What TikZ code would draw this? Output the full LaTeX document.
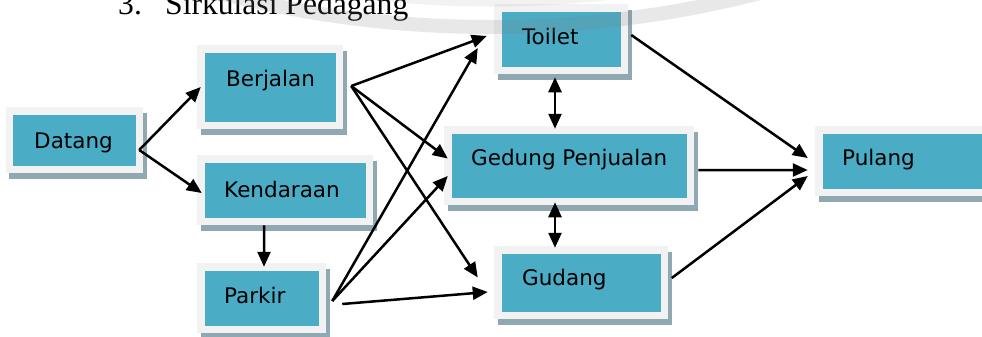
\documentclass[tikz,border=0pt]{standalone}
\usepackage{fontspec}
\setmainfont{Liberation Serif}
\newfontfamily\boxfont{DejaVu Sans}
\usetikzlibrary{arrows.meta}
\definecolor{teal5}{HTML}{4BACC6}
\definecolor{framec}{HTML}{F2F2F2}
\definecolor{shadowc}{HTML}{90A8B2}
\begin{document}
\begin{tikzpicture}[x=1bp,y=-1bp,
  box/.style={rectangle, fill=teal5, draw=framec, line width=7.5bp, outer sep=0pt, inner sep=0pt,
    preaction={fill=shadowc, draw=shadowc, transform canvas={shift={(3.5bp,-6bp)}}}},
  lbl/.style={anchor=base west, inner sep=0pt, font=\boxfont\fontsize{21.5bp}{25bp}\selectfont, text=black},
  arr/.style={line width=2.5bp, -{Triangle[length=15bp,width=13bp]}},
  darr/.style={line width=2.5bp, {Triangle[length=15bp,width=13bp]}-{Triangle[length=15bp,width=13bp]}},
  wmark/.style={draw=gray, opacity=0.18, line width=14bp}]
\useasboundingbox (0,0) rectangle (982,336);
\clip (0,0) rectangle (982,336);
\fill[white] (0,0) rectangle (982,336);

% title (cut by the top edge, as in the reference)
\node[anchor=base west, inner sep=0pt, font=\fontsize{31.6bp}{36bp}\selectfont] (title) at (118,14) {3.\hspace{23.3bp}Sirkulasi Pedagang};

% boxes
\node[box, minimum width=129.5bp, minimum height=58.5bp] (datang) at (74.5,140) {};
\node[box, minimum width=138.5bp, minimum height=76.5bp] (berjalan) at (270,87) {};
\node[box, minimum width=168.5bp, minimum height=62.5bp] (kendaraan) at (285,190) {};
\node[box, minimum width=121.5bp, minimum height=62.5bp] (parkir) at (261.5,298) {};
\node[box, minimum width=126.5bp, minimum height=62.5bp] (toilet) at (561,39) {};
\node[box, minimum width=242.5bp, minimum height=71.5bp] (gedung) at (569,165.5) {};
\node[box, minimum width=166.5bp, minimum height=65.5bp] (gudang) at (581,282.5) {};
\node[box, minimum width=177.5bp, minimum height=62.5bp] (pulang) at (907.5,161) {};

% labels
\node[lbl] (tdatang) at (34,148) {Datang};
\node[lbl] (tberjalan) at (226,86) {Berjalan};
\node[lbl] (tkendaraan) at (224,197) {Kendaraan};
\node[lbl] (tparkir) at (224,303) {Parkir};
\node[lbl] (ttoilet) at (522,44) {Toilet};
\node[lbl] (tgedung) at (471,165) {Gedung Penjualan};
\node[lbl] (tgudang) at (522,285) {Gudang};
\node[lbl] (tpulang) at (842,165) {Pulang};

% watermark arcs
\draw[wmark] (490,-1053) circle[radius=1080];
\draw[draw=gray, opacity=0.1, line width=7bp] (490,-1053) circle[radius=1056];

% connectors
\draw[arr] ([shift={(0,10)}]datang.east) -- (berjalan.west);
\draw[arr] ([shift={(0,10)}]datang.east) -- ([shift={(1,3)}]kendaraan.west);
\draw[arr] ([shift={(-21,4)}]kendaraan.south) -- ([shift={(2.5,0)}]parkir.north);
\draw[arr] ([shift={(12,-1)}]berjalan.east) -- ([shift={(-11,-3)}]toilet.west);
\draw[arr] ([shift={(12,-1)}]berjalan.east) -- ([shift={(0,-7)}]gedung.west);
\draw[arr] ([shift={(12,-1)}]berjalan.east) -- ([shift={(-20,-5)}]gudang.west);
\draw[arr] ([shift={(10,3)}]parkir.east) -- ([shift={(-20,9)}]toilet.west);
\draw[arr] ([shift={(10,3)}]parkir.east) -- ([shift={(0,10.5)}]gedung.west);
\draw[arr] ([shift={(20,6)}]parkir.east) -- ([shift={(-10,9.5)}]gudang.west);
\draw[arr] ([shift={(7,-4)}]toilet.east) -- ([shift={(-11,-3)}]pulang.west);
\draw[arr] ([shift={(8,4.5)}]gedung.east) -- ([shift={(-11,9)}]pulang.west);
\draw[arr] ([shift={(7.5,-4.5)}]gudang.east) -- ([shift={(-11,15)}]pulang.west);
\draw[darr] ([shift={(-6,7)}]toilet.south) -- ([shift={(-14,-1)}]gedung.north);
\draw[darr] ([shift={(-14,1)}]gedung.south) -- ([shift={(-26,-2)}]gudang.north);
\end{tikzpicture}
\end{document}
